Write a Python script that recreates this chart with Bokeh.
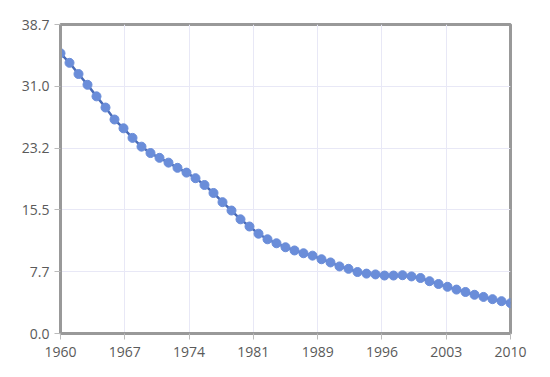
from bokeh.plotting import figure
from bokeh.models import FixedTicker, Range1d, ColumnDataSource
from bokeh.embed import file_html
from bokeh.resources import INLINE

years = list(range(1960, 2011))
values = [35.1, 33.9, 32.5, 31.15, 29.7, 28.3, 26.8, 25.7, 24.5, 23.4,
          22.6, 22.0, 21.4, 20.75, 20.15, 19.45, 18.6, 17.6, 16.45, 15.4,
          14.3, 13.4, 12.5, 11.8, 11.3, 10.8, 10.4, 10.05, 9.75, 9.3,
          8.9, 8.4, 8.1, 7.7, 7.5, 7.4, 7.26, 7.26, 7.3, 7.15,
          6.95, 6.55, 6.2, 5.85, 5.5, 5.2, 4.85, 4.58, 4.3, 4.05, 3.8]

x_tick_labels = ["1960", "1967", "1974", "1981", "1989", "1996", "2003", "2010"]
y_tick_labels = ["0.0", "7.7", "15.5", "23.2", "31.0", "38.7"]
x_min, x_max = 1960, 2010
y_min, y_max = 0.0, 38.7

x_ticks = [x_min + i * (x_max - x_min) / 7 for i in range(8)]
y_ticks = [y_min + i * (y_max - y_min) / 5 for i in range(6)]

src = ColumnDataSource(data=dict(x=years, y=values))

p = figure(width=538, height=368, output_backend="svg", toolbar_location=None,
           x_range=Range1d(x_min, x_max), y_range=Range1d(y_min, y_max),
           min_border_left=60, min_border_right=28, min_border_top=24, min_border_bottom=35)

p.line("x", "y", source=src, line_color="#4a6cb8", line_width=2.5)
p.scatter("x", "y", source=src, size=9, fill_color="#6a8dd9", line_color="#6a8dd9")

p.xaxis.ticker = FixedTicker(ticks=x_ticks)
p.yaxis.ticker = FixedTicker(ticks=y_ticks)
p.xaxis.major_label_overrides = {t: l for t, l in zip(x_ticks, x_tick_labels)}
p.yaxis.major_label_overrides = {t: l for t, l in zip(y_ticks, y_tick_labels)}

for ax in (p.xaxis[0], p.yaxis[0]):
    ax.axis_line_color = "#999999"
    ax.axis_line_width = 3
    ax.major_tick_line_color = "#bbbbbb"
    ax.major_tick_out = 6
    ax.major_tick_in = 0
    ax.minor_tick_line_color = None
    ax.major_label_text_color = "#5a5a5a"
    ax.major_label_text_font = "Open Sans"
    ax.major_label_text_font_size = "14px"
p.xaxis[0].major_label_standoff = 7
p.yaxis[0].major_label_standoff = 5

p.grid.grid_line_color = "#e8e8f6"
p.grid.grid_line_width = 1
p.outline_line_color = "#999999"
p.outline_line_width = 3
p.outline_line_alpha = 1.0
p.background_fill_color = "white"
p.border_fill_color = "white"

open("out.html", "w").write(file_html(p, INLINE))
